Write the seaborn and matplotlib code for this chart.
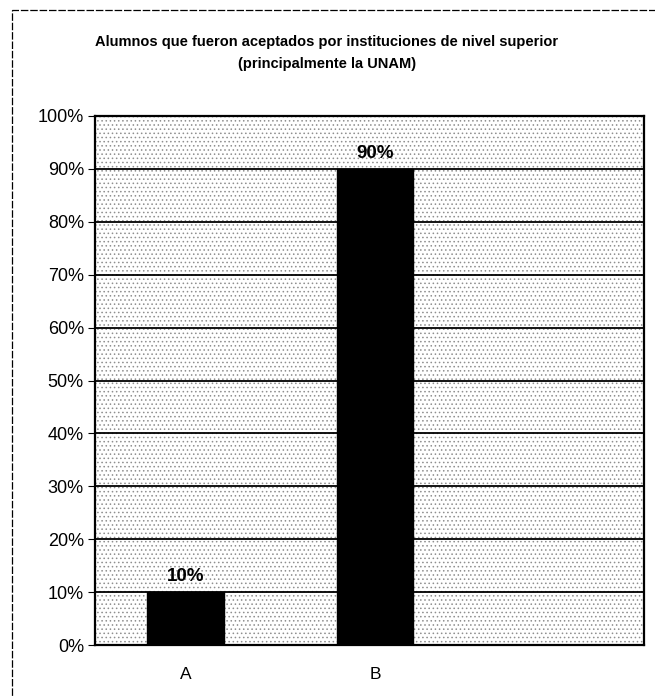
import matplotlib
matplotlib.use("Agg")
import matplotlib.pyplot as plt
import seaborn as sns
import pandas as pd
from matplotlib.patches import Rectangle
from matplotlib.ticker import PercentFormatter

categories = ["A", "B"]
values = [10, 90]
bar_labels = ["10%", "90%"]
yticks = [0, 10, 20, 30, 40, 50, 60, 70, 80, 90, 100]
title = "Alumnos que fueron aceptados por instituciones de nivel superior\n(principalmente la UNAM)"

sns.set_theme(style="white")
plt.rcParams["font.family"] = ["Liberation Sans", "DejaVu Sans"]
plt.rcParams["hatch.color"] = "#8f8f8f"
plt.rcParams["hatch.linewidth"] = 0.6

df = pd.DataFrame({"cat": categories, "val": values})

fig = plt.figure(figsize=(6.55, 6.97), dpi=100)
ax = fig.add_axes([95/655, 1-645/697, (644-95)/655, (645-116)/697])

ax.set_facecolor("white")
ax.patch.set_hatch("....")
ax.patch.set_edgecolor("#8f8f8f")

sns.barplot(data=df, x="cat", y="val", color="black", width=0.405, ax=ax,
            saturation=1, zorder=3)
for p in ax.patches:
    p.set_edgecolor("black")

ax.set_xlim(-0.478, 2.42)
ax.set_ylim(0, 100)
ax.set_yticks(yticks)
ax.yaxis.set_major_formatter(PercentFormatter(decimals=0))
ax.grid(axis="y", color="black", linewidth=1.3, zorder=1)
ax.set_axisbelow(True)
ax.set_xlabel("")
ax.set_ylabel("")

for s in ax.spines.values():
    s.set_color("black")
    s.set_linewidth(1.6)
    s.set_zorder(4)

ax.tick_params(axis="y", left=True, length=5, width=0.8, color="black",
               labelsize=13, pad=3, labelcolor="black")
ax.tick_params(axis="x", bottom=False, labelsize=12.5, pad=10, labelcolor="black")

for i, (v, lab) in enumerate(zip(values, bar_labels)):
    ax.annotate(lab, (i, v), xytext=(0, 5), textcoords="offset points",
                ha="center", va="bottom", fontsize=13.5, fontweight="bold",
                color="black", zorder=5)

fig.text(0.499, 1-35/697, title, ha="center", va="top", fontsize=10.5,
         fontweight="bold", linespacing=1.7, color="black")

frame = Rectangle((12/655, -0.05), 1.2, 1-10/697+0.05, transform=fig.transFigure,
                  fill=False, edgecolor="black", linewidth=0.9, linestyle=(0, (6, 1.5)))
fig.add_artist(frame)

fig.savefig("out.png", dpi=100)
